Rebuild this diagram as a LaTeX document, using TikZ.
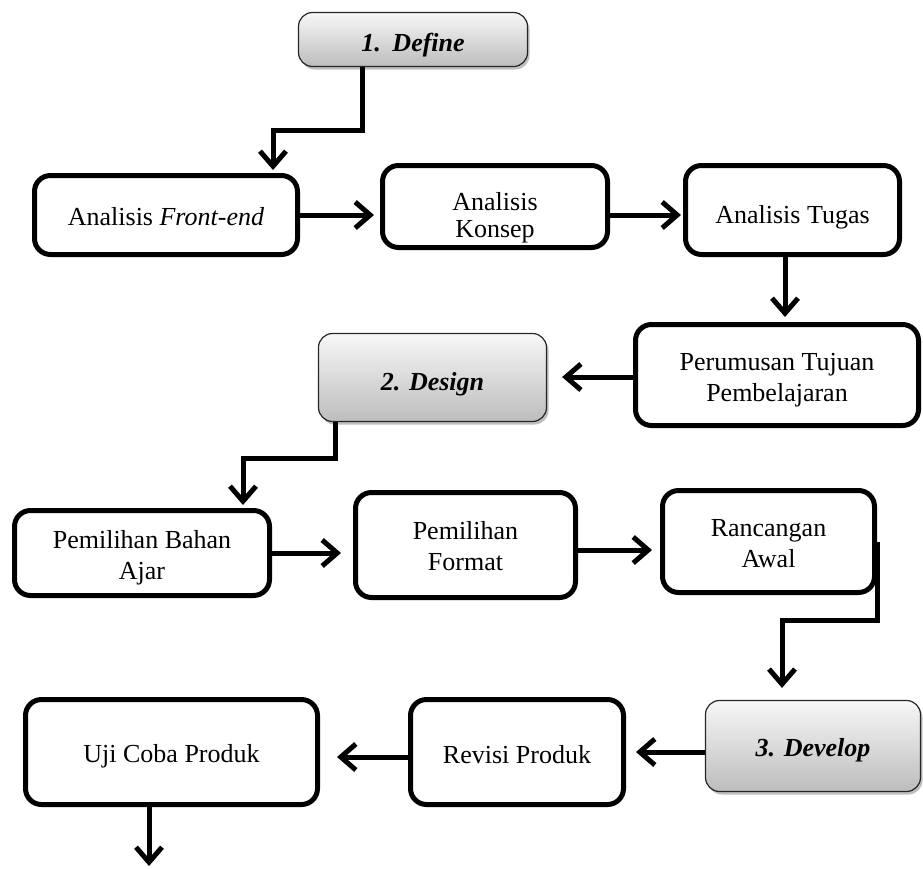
\documentclass[tikz,border=0pt]{standalone}
\usepackage{fontspec}
\setmainfont{Liberation Serif}
\usetikzlibrary{arrows.meta,shadows}
\begin{document}
\begin{tikzpicture}[x=1pt,y=-1pt,
  wbox/.style={draw=black, line width=5pt, rounded corners=16pt, fill=white, inner sep=0pt},
  gbox/.style={draw=black!85, line width=1.2pt, rounded corners=14pt,
    top color=black!3, bottom color=black!26, inner sep=0pt,
    drop shadow={shadow xshift=2pt, shadow yshift=-3pt, opacity=0.25, fill=black}},
  txt/.style={align=center, inner sep=0pt, font=\fontsize{26}{31}\selectfont},
  gtxt/.style={txt, font=\fontsize{26}{31}\selectfont\bfseries\itshape},
  arr/.style={line width=5pt, -{Straight Barb[length=15pt,width=26pt]}, line join=miter}
]
\useasboundingbox (0,0) rectangle (923,868);

% boxes
\node[gbox, minimum width=229pt, minimum height=54pt] (def) at (413,39.5) {};
\node[wbox, minimum width=263pt, minimum height=79pt] (fe) at (166,215) {};
\node[wbox, minimum width=225pt, minimum height=82pt] (konsep) at (495,206.5) {};
\node[wbox, minimum width=214pt, minimum height=89pt] (tugas) at (792.5,210) {};
\node[wbox, minimum width=283pt, minimum height=101pt] (rumus) at (777,375) {};
\node[gbox, minimum width=228pt, minimum height=88pt] (design) at (432.5,377.5) {};
\node[wbox, minimum width=255pt, minimum height=85pt] (bahan) at (142,553) {};
\node[wbox, minimum width=220pt, minimum height=105pt] (format) at (465.5,545) {};
\node[wbox, minimum width=212pt, minimum height=102pt] (rancang) at (768.5,541.5) {};
\node[gbox, minimum width=215pt, minimum height=91pt] (develop) at (813,746) {};
\node[wbox, minimum width=213pt, minimum height=105pt] (revisi) at (517,752) {};
\node[wbox, minimum width=292pt, minimum height=105pt] (uji) at (171.5,752) {};

% texts
\node[gtxt] (def-t) at (413,45) {1.\hspace{0.45em}Define};
\node[txt] (fe-t) at (166,217) {Analisis \textit{Front-end}};
\node[txt, font=\fontsize{26}{27}\selectfont] (konsep-t) at (495,218) {Analisis\\Konsep};
\node[txt] (tugas-t) at (792.5,217) {Analisis Tugas};
\node[txt] (rumus-t) at (777,380) {Perumusan Tujuan\\Pembelajaran};
\node[gtxt] (design-t) at (432.5,384) {2. Design};
\node[txt] (bahan-t) at (142,558) {Pemilihan Bahan\\Ajar};
\node[txt] (format-t) at (465.5,546) {Pemilihan\\Format};
\node[txt] (rancang-t) at (768.5,544) {Rancangan\\Awal};
\node[gtxt] (develop-t) at (813,750) {3. Develop};
\node[txt] (revisi-t) at (517,755) {Revisi Produk};
\node[txt] (uji-t) at (171.5,756) {Uji Coba Produk};

% helper coordinates
\coordinate (k1) at (362,0);
\coordinate (k2) at (273,130);
\coordinate (r1) at (0,215);
\coordinate (c4) at (785,0);
\coordinate (c5) at (0,377);
\coordinate (c6) at (335,0);
\coordinate (c7) at (243,458);
\coordinate (c8) at (0,553);
\coordinate (c8b) at (0,550);
\coordinate (c9) at (782,620);
\coordinate (c10) at (0,752);
\coordinate (c11) at (0,757);
\coordinate (endpt) at (149,866);

% connectors
\draw[arr, shorten >=3pt] (def.south -| k1) |- (k2) -- (fe.north -| k2);
\draw[arr, shorten >=6pt] (fe.east |- r1) -- (konsep.west |- r1);
\draw[arr, shorten >=2pt] (konsep.east |- r1) -- (tugas.west |- r1);
\draw[arr, shorten >=5pt] (tugas.south -| c4) -- (rumus.north -| c4);
\draw[arr, shorten >=15pt] (rumus.west |- c5) -- (design.east |- c5);
\draw[arr, shorten >=3pt] (design.south -| c6) |- (c7) -- (bahan.north -| c7);
\draw[arr, shorten >=12pt] (bahan.east |- c8) -- (format.west |- c8);
\draw[arr, shorten >=8pt] (format.east |- c8b) -- (rancang.west |- c8b);
\draw[arr, shorten >=12pt] (rancang.east) |- (c9) -- (develop.north -| c9);
\draw[arr, shorten >=10pt] (develop.west |- c10) -- (revisi.east |- c10);
\draw[arr, shorten >=17pt] (revisi.west |- c11) -- (uji.east |- c11);
\draw[arr] (uji.south -| endpt) -- (endpt);
\end{tikzpicture}
\end{document}
